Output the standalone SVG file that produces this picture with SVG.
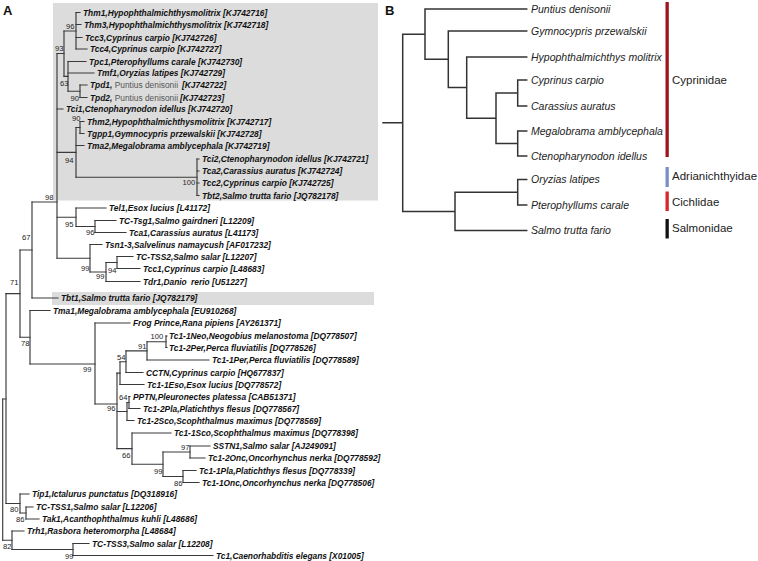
<svg xmlns="http://www.w3.org/2000/svg" width="758" height="561" viewBox="0 0 758 561">
<style>
.bg{fill:#dcdcdc}
.ln{fill:none;stroke:#3a3a3a;stroke-width:1.15;stroke-linecap:square}
.lnB{fill:none;stroke:#333;stroke-width:1.5;stroke-linecap:square}
.lf{font-family:"Liberation Sans",Arial,sans-serif;font-size:8.4px;font-weight:bold;font-style:italic;fill:#111}
.rg{font-weight:normal;font-style:normal;fill:#555}
.bs{font-family:"Liberation Sans",Arial,sans-serif;font-size:7.6px;fill:#222}
.lb{font-family:"Liberation Sans",Arial,sans-serif;font-size:10.5px;font-style:italic;fill:#222}
.fam{font-family:"Liberation Sans",Arial,sans-serif;font-size:11.5px;fill:#222}
.pl{font-family:"Liberation Sans",Arial,sans-serif;font-size:13px;font-weight:bold;fill:#111}
</style>
<rect width="758" height="561" fill="#fff"/>
<g id="panelA-highlights">
<rect class="bg" x="53" y="3" width="325" height="197.5"/>
<rect class="bg" x="52" y="292" width="322" height="13"/>
</g>
<text class="pl" x="3" y="15">A</text>
<text class="pl" x="385" y="15">B</text>
<g id="connectors">
<path class="ln" d="M76 12.5V49M64 31V76.4M68 61.5V91.25M80 85V97.5M80 121.5V133.5M76 127.5V177.25M197 159V195.5M57 53.5V258.25M95 220.5V232.5M76 208V226.5M90 244.5V272M106 262.5V281.5M117 256.5V268.5M32 202V298M20 250V337.25M30 310.5V364M6 293.6V503.5M2.7 399V540.25M95 323V404M117 373.1V448.6M120 361.75V384.5M126 350.9V372.5M147 341.75V360M166 336V347.5M127 402.5V420.5M129 396.5V408.5M132 433V464.25M163 452V476.5M190 446V458M183 470.5V482.5M20 494V513M26 507V519M12 531V549.5M73 543.5V555.5"/>
<path class="ln" d="M64 31H76M57 53.5H64M64 76.4H68M68 91.25H80M76 127.5H80M57 152.4H76M76 177.25H197M57 217.25H76M76 226.5H95M57 258.25H90M90 272H106M106 262.5H117M32 202H57M20 250H32M20 337.25H30M30 364H95M6 293.6H20M2.7 399H6M95 404H117M117 373.1H120M120 361.75H126M126 350.9H147M147 341.75H166M117 411.5H127M127 402.5H129M117 448.6H132M132 464.25H163M163 452H190M163 476.5H183M6 503.5H20M20 513H26M2.7 540.25H12M12 549.5H73"/>
<path class="ln" d="M76 12.5H80M76 24.5H81M76 37.5H82M76 49H87M68 61.5H86M68 73H94M80 85H87M80 97.5H87M57 109H63M80 121.5H84M80 133.5H84M76 145.5H84M197 159H199M197 171H199M197 183H199M197 195.5H199M76 208H106M95 220.5H116M95 232.5H126M90 244.5H102M117 256.5H133M117 268.5H140M106 281.5H140M32 298H58M30 310.5H50M95 323H130M166 336H167M166 347.5H167M147 360H209M126 372.5H143M120 384.5H144M129 396.5H130M129 408.5H140M127 420.5H134M132 433H171M190 446H210M190 458H205M183 470.5H196M183 482.5H199M20 494H29M26 507H33M26 519H39M12 531H24M73 543.5H89M73 555.5H213"/>
<path class="lnB" d="M383 122.8H402.7M402.7 34.15V211.4M402.7 34.15H425M425 9V59.3M425 9H526.7M425 59.3H448.3M448.3 31V87.6M448.3 31H526.7M448.3 87.6H466.7M466.7 57V118.25M466.7 57H526.7M466.7 118.25H496M496 93V143.5M496 93H517.7M517.7 80V106M517.7 80H526.7M517.7 106H526.7M496 143.5H517.7M517.7 131V156M517.7 131H526.7M517.7 156H526.7M402.7 211.4H455M455 192.25V230.5M455 192.25H517.7M517.7 179.5V205M517.7 179.5H526.7M517.7 205H526.7M455 230.5H526.7"/>
</g>
<g id="bootstrap">
<text class="bs" x="66" y="29.3">96</text>
<text class="bs" x="55" y="50.6">93</text>
<text class="bs" x="60" y="85.9">63</text>
<text class="bs" x="70.5" y="100.5">90</text>
<text class="bs" x="72" y="120.6">90</text>
<text class="bs" x="65" y="162.6">94</text>
<text class="bs" x="182.5" y="184.9">100</text>
<text class="bs" x="45" y="199.6">98</text>
<text class="bs" x="65" y="226.6">95</text>
<text class="bs" x="86" y="235.3">96</text>
<text class="bs" x="22" y="239.6">67</text>
<text class="bs" x="81" y="270.9">99</text>
<text class="bs" x="108" y="272.6">94</text>
<text class="bs" x="96" y="278.8">99</text>
<text class="bs" x="10" y="284.6">71</text>
<text class="bs" x="21" y="345.6">78</text>
<text class="bs" x="150.5" y="339.3">100</text>
<text class="bs" x="138" y="348.6">91</text>
<text class="bs" x="117" y="359.9">54</text>
<text class="bs" x="83" y="371.9">99</text>
<text class="bs" x="119" y="399.9">64</text>
<text class="bs" x="107" y="411.2">96</text>
<text class="bs" x="122" y="458.3">66</text>
<text class="bs" x="181" y="450.3">97</text>
<text class="bs" x="154" y="474.3">99</text>
<text class="bs" x="174" y="485.9">86</text>
<text class="bs" x="10" y="511.6">80</text>
<text class="bs" x="16" y="521.8">86</text>
<text class="bs" x="3" y="549.3">82</text>
<text class="bs" x="65" y="559.3">99</text>
</g>
<g id="leaf-Thm1"><text class="lf" x="83" y="15.5">Thm1,Hypophthalmichthysmolitrix [KJ742716]</text></g>
<g id="leaf-Thm3"><text class="lf" x="84" y="27.5">Thm3,Hypophthalmichthysmolitrix [KJ742718]</text></g>
<g id="leaf-Tcc3"><text class="lf" x="85" y="40.5">Tcc3,Cyprinus carpio [KJ742726]</text></g>
<g id="leaf-Tcc4"><text class="lf" x="90" y="52">Tcc4,Cyprinus carpio [KJ742727]</text></g>
<g id="leaf-Tpc1"><text class="lf" x="89" y="64.5">Tpc1,Pterophyllums carale [KJ742730]</text></g>
<g id="leaf-Tmf1"><text class="lf" x="97" y="76">Tmf1,Oryzias latipes [KJ742729]</text></g>
<g id="leaf-Tpd1"><text class="lf" x="90" y="88">Tpd1,<tspan class="rg"> Puntius denisonii</tspan><tspan x="182">[KJ742722]</tspan></text></g>
<g id="leaf-Tpd2"><text class="lf" x="90" y="100.5">Tpd2,<tspan class="rg"> Puntius denisonii</tspan><tspan x="180">[KJ742723]</tspan></text></g>
<g id="leaf-Tci1"><text class="lf" x="66" y="112">Tci1,Ctenopharynodon idellus [KJ742720]</text></g>
<g id="leaf-Thm2"><text class="lf" x="87" y="124.5">Thm2,Hypophthalmichthysmolitrix [KJ742717]</text></g>
<g id="leaf-Tgpp1"><text class="lf" x="87" y="136.5">Tgpp1,Gymnocypris przewalskii [KJ742728]</text></g>
<g id="leaf-Tma2"><text class="lf" x="87" y="148.5">Tma2,Megalobrama amblycephala [KJ742719]</text></g>
<g id="leaf-Tci2"><text class="lf" x="202" y="162">Tci2,Ctenopharynodon idellus [KJ742721]</text></g>
<g id="leaf-Tca2"><text class="lf" x="202" y="174">Tca2,Carassius auratus [KJ742724]</text></g>
<g id="leaf-Tcc2"><text class="lf" x="202" y="186">Tcc2,Cyprinus carpio [KJ742725]</text></g>
<g id="leaf-Tbt2"><text class="lf" x="202" y="198.5">Tbt2,Salmo trutta fario [JQ782178]</text></g>
<g id="leaf-Tel1"><text class="lf" x="109" y="211">Tel1,Esox lucius [L41172]</text></g>
<g id="leaf-TC-Tsg1"><text class="lf" x="119" y="223.5">TC-Tsg1,Salmo gairdneri [L12209]</text></g>
<g id="leaf-Tca1"><text class="lf" x="129" y="235.5">Tca1,Carassius auratus [L41173]</text></g>
<g id="leaf-Tsn1-3"><text class="lf" x="105" y="247.5">Tsn1-3,Salvelinus namaycush [AF017232]</text></g>
<g id="leaf-TC-TSS2"><text class="lf" x="136" y="259.5">TC-TSS2,Salmo salar [L12207]</text></g>
<g id="leaf-Tcc1"><text class="lf" x="143" y="271.5">Tcc1,Cyprinus carpio [L48683]</text></g>
<g id="leaf-Tdr1"><text class="lf" x="143" y="284.5">Tdr1,Danio <tspan dx="2">rerio [U51227]</tspan></text></g>
<g id="leaf-Tbt1"><text class="lf" x="61" y="301">Tbt1,Salmo trutta fario [JQ782179]</text></g>
<g id="leaf-Tma1"><text class="lf" x="53" y="313.5">Tma1,Megalobrama amblycephala [EU910268]</text></g>
<g id="leaf-FrogPrince"><text class="lf" x="133" y="326">Frog Prince,Rana pipiens [AY261371]</text></g>
<g id="leaf-Tc1-1Neo"><text class="lf" x="169" y="339">Tc1-1Neo,Neogobius melanostoma [DQ778507]</text></g>
<g id="leaf-Tc1-2Per"><text class="lf" x="169" y="350.5">Tc1-2Per,Perca fluviatilis [DQ778526]</text></g>
<g id="leaf-Tc1-1Per"><text class="lf" x="212" y="363">Tc1-1Per,Perca fluviatilis [DQ778589]</text></g>
<g id="leaf-CCTN"><text class="lf" x="146" y="375.5">CCTN,Cyprinus carpio [HQ677837]</text></g>
<g id="leaf-Tc1-1Eso"><text class="lf" x="147" y="387.5">Tc1-1Eso,Esox lucius [DQ778572]</text></g>
<g id="leaf-PPTN"><text class="lf" x="133" y="399.5">PPTN,Pleuronectes platessa [CAB51371]</text></g>
<g id="leaf-Tc1-2Pla"><text class="lf" x="143" y="411.5">Tc1-2Pla,Platichthys flesus [DQ778567]</text></g>
<g id="leaf-Tc1-2Sco"><text class="lf" x="137" y="423.5">Tc1-2Sco,Scophthalmus maximus [DQ778569]</text></g>
<g id="leaf-Tc1-1Sco"><text class="lf" x="174" y="436">Tc1-1Sco,Scophthalmus maximus [DQ778398]</text></g>
<g id="leaf-SSTN1"><text class="lf" x="213" y="449">SSTN1,Salmo salar [AJ249091]</text></g>
<g id="leaf-Tc1-2Onc"><text class="lf" x="208" y="461">Tc1-2Onc,Oncorhynchus nerka [DQ778592]</text></g>
<g id="leaf-Tc1-1Pla"><text class="lf" x="199" y="473.5">Tc1-1Pla,Platichthys flesus [DQ778339]</text></g>
<g id="leaf-Tc1-1Onc"><text class="lf" x="202" y="485.5">Tc1-1Onc,Oncorhynchus nerka [DQ778506]</text></g>
<g id="leaf-Tip1"><text class="lf" x="32" y="497">Tip1,Ictalurus punctatus [DQ318916]</text></g>
<g id="leaf-TC-TSS1"><text class="lf" x="36" y="510">TC-TSS1,Salmo salar [L12206]</text></g>
<g id="leaf-Tak1"><text class="lf" x="42" y="522">Tak1,Acanthophthalmus kuhli [L48686]</text></g>
<g id="leaf-Trh1"><text class="lf" x="27" y="534">Trh1,Rasbora heteromorpha [L48684]</text></g>
<g id="leaf-TC-TSS3"><text class="lf" x="92" y="546.5">TC-TSS3,Salmo salar [L12208]</text></g>
<g id="leaf-Tc1"><text class="lf" x="216" y="558.5">Tc1,Caenorhabditis elegans [X01005]</text></g>
<g id="B-Puntius"><text class="lb" x="531" y="12.7">Puntius denisonii</text></g>
<g id="B-Gymnocypris"><text class="lb" x="531" y="34.7">Gymnocypris przewalskii</text></g>
<g id="B-Hypophthalmichthys"><text class="lb" x="531" y="60.7">Hypophthalmichthys molitrix</text></g>
<g id="B-Cyprinus"><text class="lb" x="531" y="83.7">Cyprinus carpio</text></g>
<g id="B-Carassius"><text class="lb" x="531" y="109.7">Carassius auratus</text></g>
<g id="B-Megalobrama"><text class="lb" x="531" y="134.7">Megalobrama amblycephala</text></g>
<g id="B-Ctenopharyngodon"><text class="lb" x="531" y="159.7">Ctenopharynodon idellus</text></g>
<g id="B-Oryzias"><text class="lb" x="531" y="183.2">Oryzias latipes</text></g>
<g id="B-Pterophyllum"><text class="lb" x="531" y="208.7">Pterophyllums carale</text></g>
<g id="B-Salmo"><text class="lb" x="531" y="234.2">Salmo trutta fario</text></g>
<g id="fam-Cyprinidae"><rect x="665.5" y="2" width="3.3" height="155" fill="#a0151d"/><text class="fam" x="672" y="84">Cyprinidae</text></g>
<g id="fam-Adrianichthyidae"><rect x="665.5" y="167" width="3.3" height="20" fill="#7a8fc6"/><text class="fam" x="672" y="179.8">Adrianichthyidae</text></g>
<g id="fam-Cichlidae"><rect x="665.5" y="191.5" width="3.3" height="19.5" fill="#d9252a"/><text class="fam" x="672" y="205.8">Cichlidae</text></g>
<g id="fam-Salmonidae"><rect x="665.5" y="219" width="3.3" height="19.5" fill="#111"/><text class="fam" x="672" y="231.8">Salmonidae</text></g>
</svg>
